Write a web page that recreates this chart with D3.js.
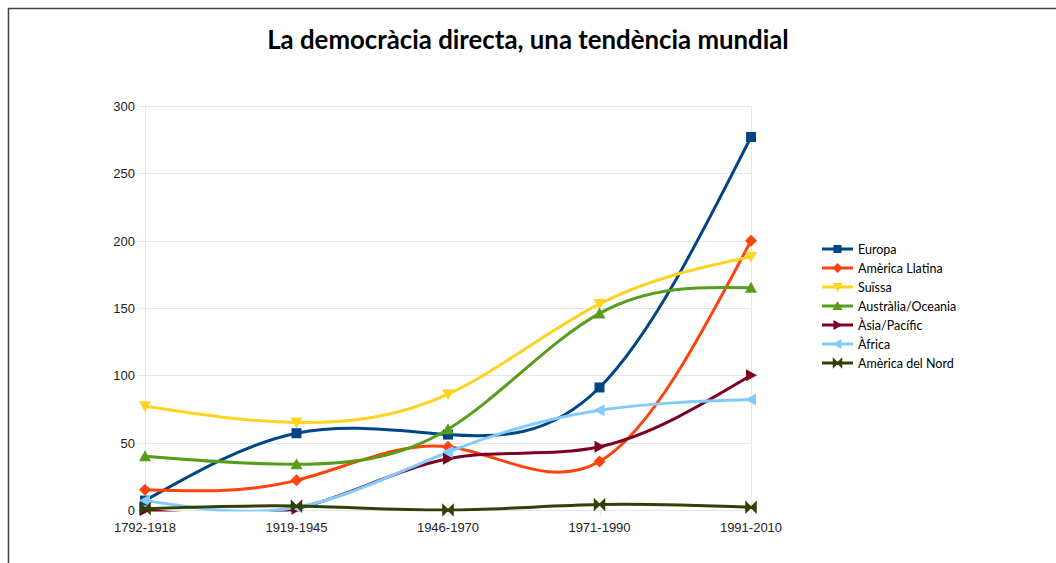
<!DOCTYPE html>
<html lang="ca">
<head>
<meta charset="UTF-8">
<title>La democràcia directa, una tendència mundial</title>
<script src="https://cdnjs.cloudflare.com/ajax/libs/d3/7.8.5/d3.min.js"></script>
<style>
  html, body { margin: 0; padding: 0; background: #fff; }
  svg { display: block; }
</style>
</head>
<body>
<svg id="chart" width="1056" height="563"></svg>
<script>
const periods = ["1792-1918", "1919-1945", "1946-1970", "1971-1990", "1991-2010"];
const yTicks = [0, 50, 100, 150, 200, 250, 300];

const europa = [7, 57, 56, 91, 277];
const americaLlatina = [15, 22, 47, 36, 200];
const suissa = [77, 65, 86, 153, 188];
const australia = [40, 34, 60, 146, 165];
const asia = [0, 1, 38, 47, 100];
const africa = [7, 2, 43, 74, 82];
const americaNord = [1, 3, 0, 4, 2];

const series = [
  { name: "Europa", values: europa, color: "#004586", marker: "square" },
  { name: "Amèrica Llatina", values: americaLlatina, color: "#ff420e", marker: "diamond" },
  { name: "Suïssa", values: suissa, color: "#ffd320", marker: "down" },
  { name: "Austràlia/Oceania", values: australia, color: "#579d1c", marker: "up" },
  { name: "Àsia/Pacífic", values: asia, color: "#7e0021", marker: "right" },
  { name: "Àfrica", values: africa, color: "#83caff", marker: "left" },
  { name: "Amèrica del Nord", values: americaNord, color: "#314004", marker: "bowtie" }
];

const svg = d3.select("#chart");

// frame
svg.append("path")
  .attr("d", "M8.5,563 L8.5,8.5 L1056,8.5")
  .attr("fill", "none").attr("stroke", "#444").attr("stroke-width", 1.5);

svg.append("text")
  .attr("x", 528).attr("y", 49)
  .attr("text-anchor", "middle")
  .attr("font-family", "Lato, Carlito, sans-serif")
  .attr("font-weight", "bold")
  .attr("font-size", 25.8)
  .attr("fill", "#000")
  .text("La democràcia directa, una tendència mundial");

const x = d3.scalePoint().domain(periods).range([145, 751]);
const y = d3.scaleLinear().domain([0, 300]).range([510, 106]);

// lines are clipped to the plot area, like the original spreadsheet chart
svg.append("defs").append("clipPath").attr("id", "plotClip")
  .append("rect")
  .attr("x", 145).attr("y", y(300) - 1.5)
  .attr("width", 751 - 145).attr("height", y(0) - y(300) + 3);

const grid = svg.append("g");
grid.selectAll("line.h").data(yTicks).join("line")
  .attr("x1", 138).attr("x2", 751)
  .attr("y1", d => Math.round(y(d)) + 0.5).attr("y2", d => Math.round(y(d)) + 0.5)
  .attr("stroke", "#e6e6e6");
grid.selectAll("line.v").data([145, 751]).join("line")
  .attr("x1", d => d + 0.5).attr("x2", d => d + 0.5)
  .attr("y1", y(300)).attr("y2", y(0))
  .attr("stroke", "#e6e6e6");
grid.selectAll("line.t").data(periods).join("line")
  .attr("x1", d => Math.round(x(d)) + 0.5).attr("x2", d => Math.round(x(d)) + 0.5)
  .attr("y1", y(0)).attr("y2", y(0) + 6)
  .attr("stroke", "#e6e6e6");

svg.append("g").selectAll("text").data(yTicks).join("text")
  .attr("x", 135).attr("y", d => y(d) + 5)
  .attr("text-anchor", "end")
  .attr("font-family", "'Liberation Sans', Arial, sans-serif")
  .attr("font-size", 13).attr("fill", "#222")
  .text(d => d);

svg.append("g").selectAll("text").data(periods).join("text")
  .attr("x", d => x(d)).attr("y", 532)
  .attr("text-anchor", "middle")
  .attr("font-family", "'Liberation Sans', Arial, sans-serif")
  .attr("font-size", 13).attr("fill", "#222")
  .text(d => d);

function markerPath(type, s) {
  switch (type) {
    case "square": return `M${-s},${-s}H${s}V${s}H${-s}Z`;
    case "diamond": return `M0,${-s - 1}L${s + 1},0L0,${s + 1}L${-s - 1},0Z`;
    case "down": return `M${-s - 1},${-s}L${s + 1},${-s}L0,${s + 1}Z`;
    case "up": return `M${-s - 1},${s}L${s + 1},${s}L0,${-s - 1}Z`;
    case "right": return `M${-s},${-s - 1}L${s + 1},0L${-s},${s + 1}Z`;
    case "left": return `M${s},${-s - 1}L${-s - 1},0L${s},${s + 1}Z`;
    case "bowtie": return `M${-s},${-s}L0,0L${-s},${s}ZM${s},${-s}L0,0L${s},${s}Z`;
  }
}

const line = d3.line()
  .x((d, i) => x(periods[i]))
  .y(d => y(d))
  .curve(d3.curveNatural);

const lines = svg.append("g").attr("clip-path", "url(#plotClip)");
series.forEach(s => {
  lines.append("path")
    .attr("d", line(s.values))
    .attr("fill", "none")
    .attr("stroke", s.color)
    .attr("stroke-width", 3)
    .attr("stroke-linejoin", "round");
});
const marks = svg.append("g");
series.forEach(s => {
  marks.append("g").selectAll("path").data(s.values).join("path")
    .attr("transform", (d, i) => `translate(${x(periods[i])},${y(d)})`)
    .attr("d", markerPath(s.marker, 5))
    .attr("fill", s.color)
    .attr("stroke", s.color)
    .attr("stroke-width", s.marker === "bowtie" ? 1.5 : 0);
});

const legend = svg.append("g").attr("transform", "translate(822,249)");
series.forEach((s, i) => {
  const g = legend.append("g").attr("transform", `translate(0,${i * 19})`);
  g.append("line").attr("x1", 0).attr("x2", 31).attr("y1", 0).attr("y2", 0)
    .attr("stroke", s.color).attr("stroke-width", 3);
  g.append("path").attr("transform", "translate(15.5,0)")
    .attr("d", markerPath(s.marker, 4))
    .attr("fill", s.color).attr("stroke", s.color)
    .attr("stroke-width", s.marker === "bowtie" ? 1.5 : 0);
  g.append("text").attr("x", 36).attr("y", 4.5)
    .attr("font-family", "Lato, Carlito, sans-serif")
    .attr("font-size", 12.5).attr("fill", "#000")
    .text(s.name);
});
</script>
</body>
</html>
